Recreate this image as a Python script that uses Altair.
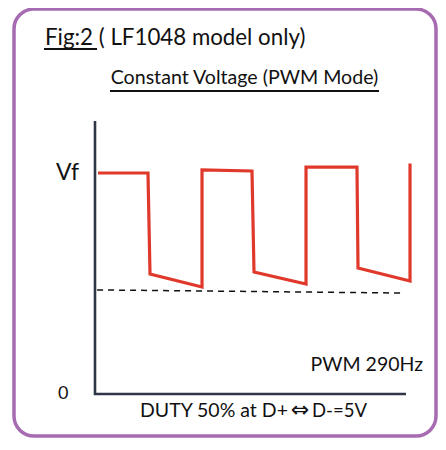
import altair as alt
import pandas as pd

# ---- data (time in half-periods, voltage relative to Vf) ----
t_red = [0.058, 1.019, 1.058, 2.058, 2.058, 3.019, 3.058, 4.058, 4.058, 5.038, 5.058, 6.058, 6.058]
v_red = [1.0, 1.0, 0.543, 0.484, 1.014, 1.009, 0.552, 0.498, 1.027, 1.027, 0.570, 0.511, 1.043]
t_dash = [0.04, 5.87]
v_dash = [0.471, 0.457]
t_axis = [0.0, 0.0, 5.98]
v_axis = [1.235, 0.0, 0.0]
tick_vals = [1.0, 0.0]
tick_labels = ["Vf", "0"]

W, H = 430, 430
FONT = "Lato"

red = pd.DataFrame({"t": t_red, "v": v_red, "o": list(range(len(t_red)))})
dash = pd.DataFrame({"t": t_dash, "v": v_dash})
axis = pd.DataFrame({"t": t_axis, "v": v_axis, "o": list(range(len(t_axis)))})
ticks = pd.DataFrame({"v": tick_vals, "lab": tick_labels})

xs = alt.Scale(domain=[-87 / 52, (W - 87) / 52], nice=False, zero=False)
ys = alt.Scale(domain=[-(H - 386) / 221, 386 / 221], nice=False, zero=False)
X = alt.X("t:Q", scale=xs, axis=None)
Y = alt.Y("v:Q", scale=ys, axis=None)

one = pd.DataFrame({"a": [0]})

border = alt.Chart(one).mark_rect(
    filled=False, stroke="#a66bb0", strokeWidth=3.5, cornerRadius=20
).encode(x=alt.value(6), x2=alt.value(428), y=alt.value(1), y2=alt.value(428))

axes = alt.Chart(axis).mark_line(color="#2f3648", strokeWidth=2.6).encode(
    x=X, y=Y, order="o:Q"
)
redline = alt.Chart(red).mark_line(color="#e0392b", strokeWidth=3.2, strokeJoin="miter").encode(
    x=X, y=Y, order="o:Q"
)
dashed = alt.Chart(dash).mark_line(color="#111111", strokeWidth=1.5, strokeDash=[6, 5]).encode(
    x=X, y=Y
)

vf = alt.Chart(ticks.iloc[[0]]).mark_text(
    font=FONT, fontSize=23, align="left", baseline="middle", color="#111111"
).encode(x=alt.value(48), y=Y, text="lab:N")
zero = alt.Chart(ticks.iloc[[1]]).mark_text(
    font=FONT, fontSize=18, align="left", baseline="middle", color="#111111"
).encode(x=alt.value(50), y=Y, text="lab:N")


def label(txt, x, y, size, align="left", font=FONT):
    return alt.Chart(one).mark_text(
        text=txt, font=font, fontSize=size, align=align, baseline="alphabetic", color="#111111"
    ).encode(x=alt.value(x), y=alt.value(y))


def uline(x1, x2, y):
    return alt.Chart(one).mark_rule(color="#111111", strokeWidth=1.8).encode(
        x=alt.value(x1), x2=alt.value(x2), y=alt.value(y)
    )


fig = label("Fig:2 ( LF1048 model only)", 37, 37, 22.3)
fig_u = uline(36, 89, 41)
title = label("Constant Voltage (PWM Mode)", 236.5, 76, 19.6, "center")
title_u = uline(102, 371, 83)
pwm = label("PWM 290Hz", 415, 363, 19.5, "right")
duty_l = label("DUTY 50% at D+", 280, 409, 19.5, "right")
duty_a = label("\u21d4", 292, 409, 22, "center", "DejaVu Sans")
duty_r = label("D-=5V", 304, 409, 18.5, "left")

chart = alt.layer(
    border, axes, dashed, redline, vf, zero, fig, fig_u, title, title_u, pwm,
    duty_l, duty_a, duty_r
).properties(
    width=W, height=H, padding=0, autosize=alt.AutoSizeParams(type="none"),
    background="white"
).configure_view(stroke=None)

chart.save("out.html", embed_options={"renderer": "svg", "actions": False})
